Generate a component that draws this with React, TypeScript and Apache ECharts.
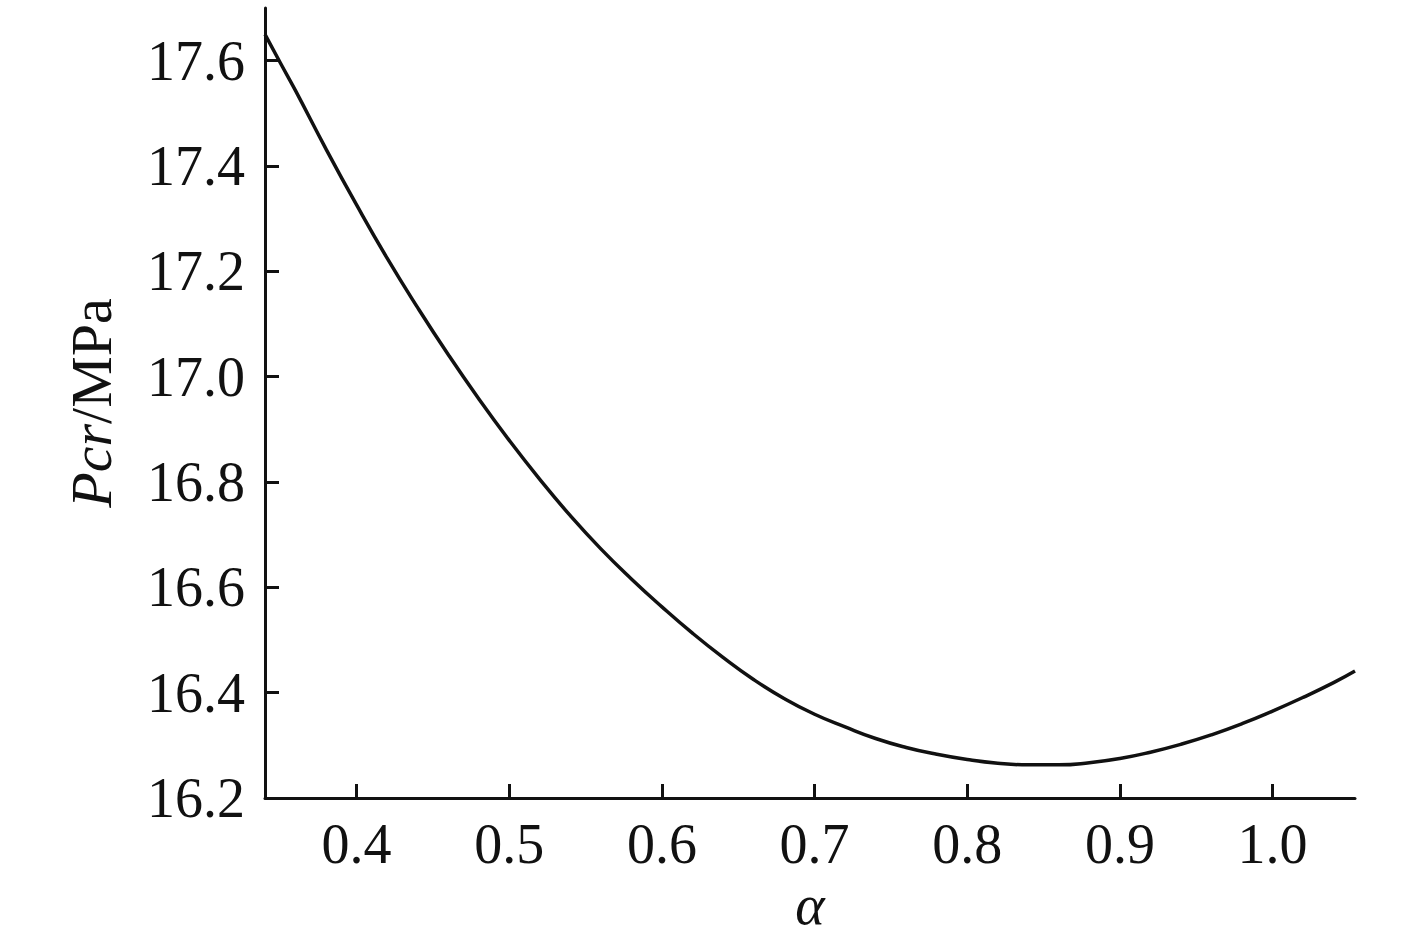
import React, { useEffect, useRef } from "react";
import * as echarts from "echarts";

const alphaValues = [0.34, 0.35, 0.36, 0.38, 0.40, 0.42, 0.44, 0.46, 0.48, 0.50, 0.52, 0.54, 0.56, 0.58, 0.60, 0.62, 0.64, 0.66, 0.68, 0.70, 0.72, 0.74, 0.76, 0.78, 0.80, 0.82, 0.84, 0.86, 0.88, 0.90, 0.92, 0.94, 0.96, 0.98, 1.00, 1.02, 1.04, 1.054];
const pcrValues = [17.65, 17.596, 17.543, 17.432, 17.326, 17.225, 17.131, 17.042, 16.958, 16.879, 16.805, 16.736, 16.673, 16.616, 16.563, 16.513, 16.467, 16.425, 16.389, 16.359, 16.335, 16.313, 16.296, 16.283, 16.273, 16.266, 16.263, 16.263, 16.267, 16.275, 16.287, 16.302, 16.32, 16.341, 16.365, 16.391, 16.419, 16.441];
const xTicks = [0.4, 0.5, 0.6, 0.7, 0.8, 0.9, 1.0];

const FONT = "'Liberation Serif', 'Times New Roman', serif";

export default function App() {
  const ref = useRef<HTMLDivElement>(null);
  useEffect(() => {
    if (!ref.current) return;
    document.body.style.margin = "0";
    const chart = echarts.init(ref.current, null, { renderer: "svg" });
    const data = alphaValues.map((a, i) => [a, pcrValues[i]]);
    chart.setOption({
      animation: false,
      backgroundColor: "#fff",
      grid: { left: 265, right: 62, top: 8, bottom: 140, containLabel: false, outerBoundsMode: "none" },
      xAxis: {
        type: "value",
        min: 0.34,
        max: 1.054,
        name: "α",
        nameLocation: "middle",
        nameGap: 73,
        nameTextStyle: { fontFamily: FONT, fontSize: 56, lineHeight: 36, fontStyle: "italic", color: "#111" },
        axisLine: { show: true, lineStyle: { color: "#111", width: 3 } },
        axisTick: { show: true, inside: true, length: 14, lineStyle: { color: "#111", width: 3 }, customValues: xTicks },
        axisLabel: {
          fontFamily: FONT, fontSize: 56, color: "#111", margin: 18,
          customValues: xTicks,
          formatter: (v: number) => v.toFixed(1),
        },
        splitLine: { show: false },
      },
      yAxis: {
        type: "value",
        min: 16.2,
        max: 17.7,
        interval: 0.2,
        name: "{i|Pcr}/MPa",
        nameLocation: "middle",
        nameGap: 145,
        nameRotate: 90,
        nameTextStyle: {
          fontFamily: FONT, fontSize: 58, color: "#111",
          rich: { i: { fontFamily: FONT, fontSize: 58, fontStyle: "italic", color: "#111" } },
        },
        axisLine: { show: true, lineStyle: { color: "#111", width: 3 } },
        axisTick: { show: true, inside: true, length: 14, lineStyle: { color: "#111", width: 3 } },
        axisLabel: {
          fontFamily: FONT, fontSize: 56, color: "#111", margin: 20,
          showMaxLabel: false,
          formatter: (v: number) => v.toFixed(1),
        },
        splitLine: { show: false },
      },
      series: [
        {
          type: "line",
          data,
          smooth: true,
          showSymbol: false,
          lineStyle: { color: "#111", width: 3.5 },
        },
      ],
    });
    return () => chart.dispose();
  }, []);
  return <div ref={ref} style={{ width: 1417, height: 938 }} />;
}
